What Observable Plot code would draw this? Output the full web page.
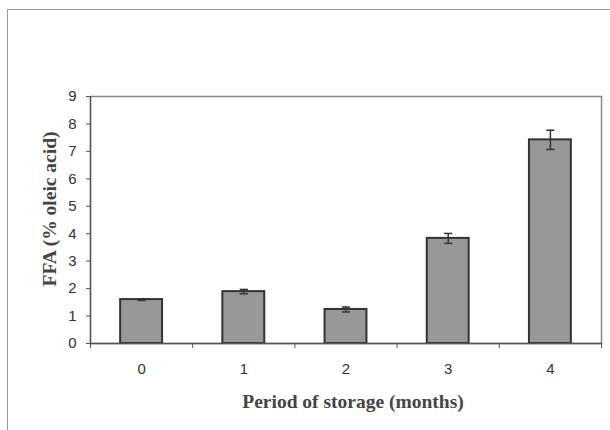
<!DOCTYPE html>
<html>
<head>
<meta charset="utf-8">
<script src="https://cdn.jsdelivr.net/npm/d3@7"></script>
<script src="https://cdn.jsdelivr.net/npm/@observablehq/plot@0.6"></script>
<style>
  html, body { margin: 0; padding: 0; background: #fff; }
  #wrap { position: relative; width: 610px; height: 430px; overflow: hidden; }
  #border { position: absolute; left: 7px; top: 9px; width: 610px; height: 430px;
            border-left: 1.5px solid #999; border-top: 1.5px solid #999; box-sizing: border-box; }
  #chart { position: absolute; left: 0; top: 0; }
</style>
</head>
<body>
<div id="wrap"><div id="border"></div><div id="chart"></div></div>
<script>
const months = [0, 1, 2, 3, 4];
const ffa = [1.60, 1.89, 1.24, 3.83, 7.42];
const errs = [0.03, 0.08, 0.09, 0.18, 0.35];
const yTicks = [0, 1, 2, 3, 4, 5, 6, 7, 8, 9];
const yTitle = "FFA (% oleic acid)";
const xTitle = "Period of storage (months)";

const data = months.map((m, i) => ({month: m, value: ffa[i], err: errs[i]}));
const boundaries = months.map(m => m - 0.5).concat([months[months.length - 1] + 0.5]);
const halfBar = 0.205;
const halfCap = 0.04;

const plot = Plot.plot({
  width: 610,
  height: 430,
  marginLeft: 90,
  marginRight: 9,
  marginTop: 96,
  marginBottom: 87,
  style: {background: "transparent", fontFamily: "'Liberation Sans', Arial, sans-serif"},
  x: {type: "linear", domain: [-0.5, 4.5]},
  y: {domain: [0, 9]},
  marks: [
    Plot.frame({stroke: "#888", strokeWidth: 1.5}),
    Plot.rectY(data, {x1: d => d.month - halfBar, x2: d => d.month + halfBar, y1: 0, y2: "value",
      fill: "#989898", stroke: "#333", strokeWidth: 2}),
    Plot.ruleX(data, {x: "month", y1: d => d.value - d.err, y2: d => d.value + d.err, stroke: "#333", strokeWidth: 1.5}),
    Plot.link(data, {x1: d => d.month - halfCap, x2: d => d.month + halfCap, y1: d => d.value + d.err, y2: d => d.value + d.err, stroke: "#333", strokeWidth: 1.5}),
    Plot.link(data, {x1: d => d.month - halfCap, x2: d => d.month + halfCap, y1: d => d.value - d.err, y2: d => d.value - d.err, stroke: "#333", strokeWidth: 1.5}),
    Plot.ruleY([0], {stroke: "#555", strokeWidth: 1.3}),
    Plot.ruleX([-0.5], {stroke: "#555", strokeWidth: 1.3}),
    Plot.axisY({ticks: yTicks, tickSize: 4, tickPadding: 10, label: null, fontSize: 15, color: "#333", stroke: "#555"}),
    Plot.axisX({ticks: boundaries, tickSize: 5, tickFormat: () => "", label: null, stroke: "#555"}),
    Plot.axisX({ticks: months, tickSize: 0, tickPadding: 20, tickFormat: d3.format("d"), label: null, fontSize: 15, color: "#333"}),
    Plot.text([yTitle], {frameAnchor: "left", textAnchor: "middle", lineAnchor: "middle", dx: -41, dy: -11, rotate: -90, text: d => d,
      fontFamily: "'Liberation Serif', 'Times New Roman', serif", fontWeight: "bold", fontSize: 19.5, fill: "#444"}),
    Plot.text([xTitle], {frameAnchor: "bottom", textAnchor: "middle", lineAnchor: "middle", dx: 7, dy: 58, text: d => d,
      fontFamily: "'Liberation Serif', 'Times New Roman', serif", fontWeight: "bold", fontSize: 19.5, fill: "#444"})
  ]
});
document.getElementById("chart").appendChild(plot);
</script>
</body>
</html>
